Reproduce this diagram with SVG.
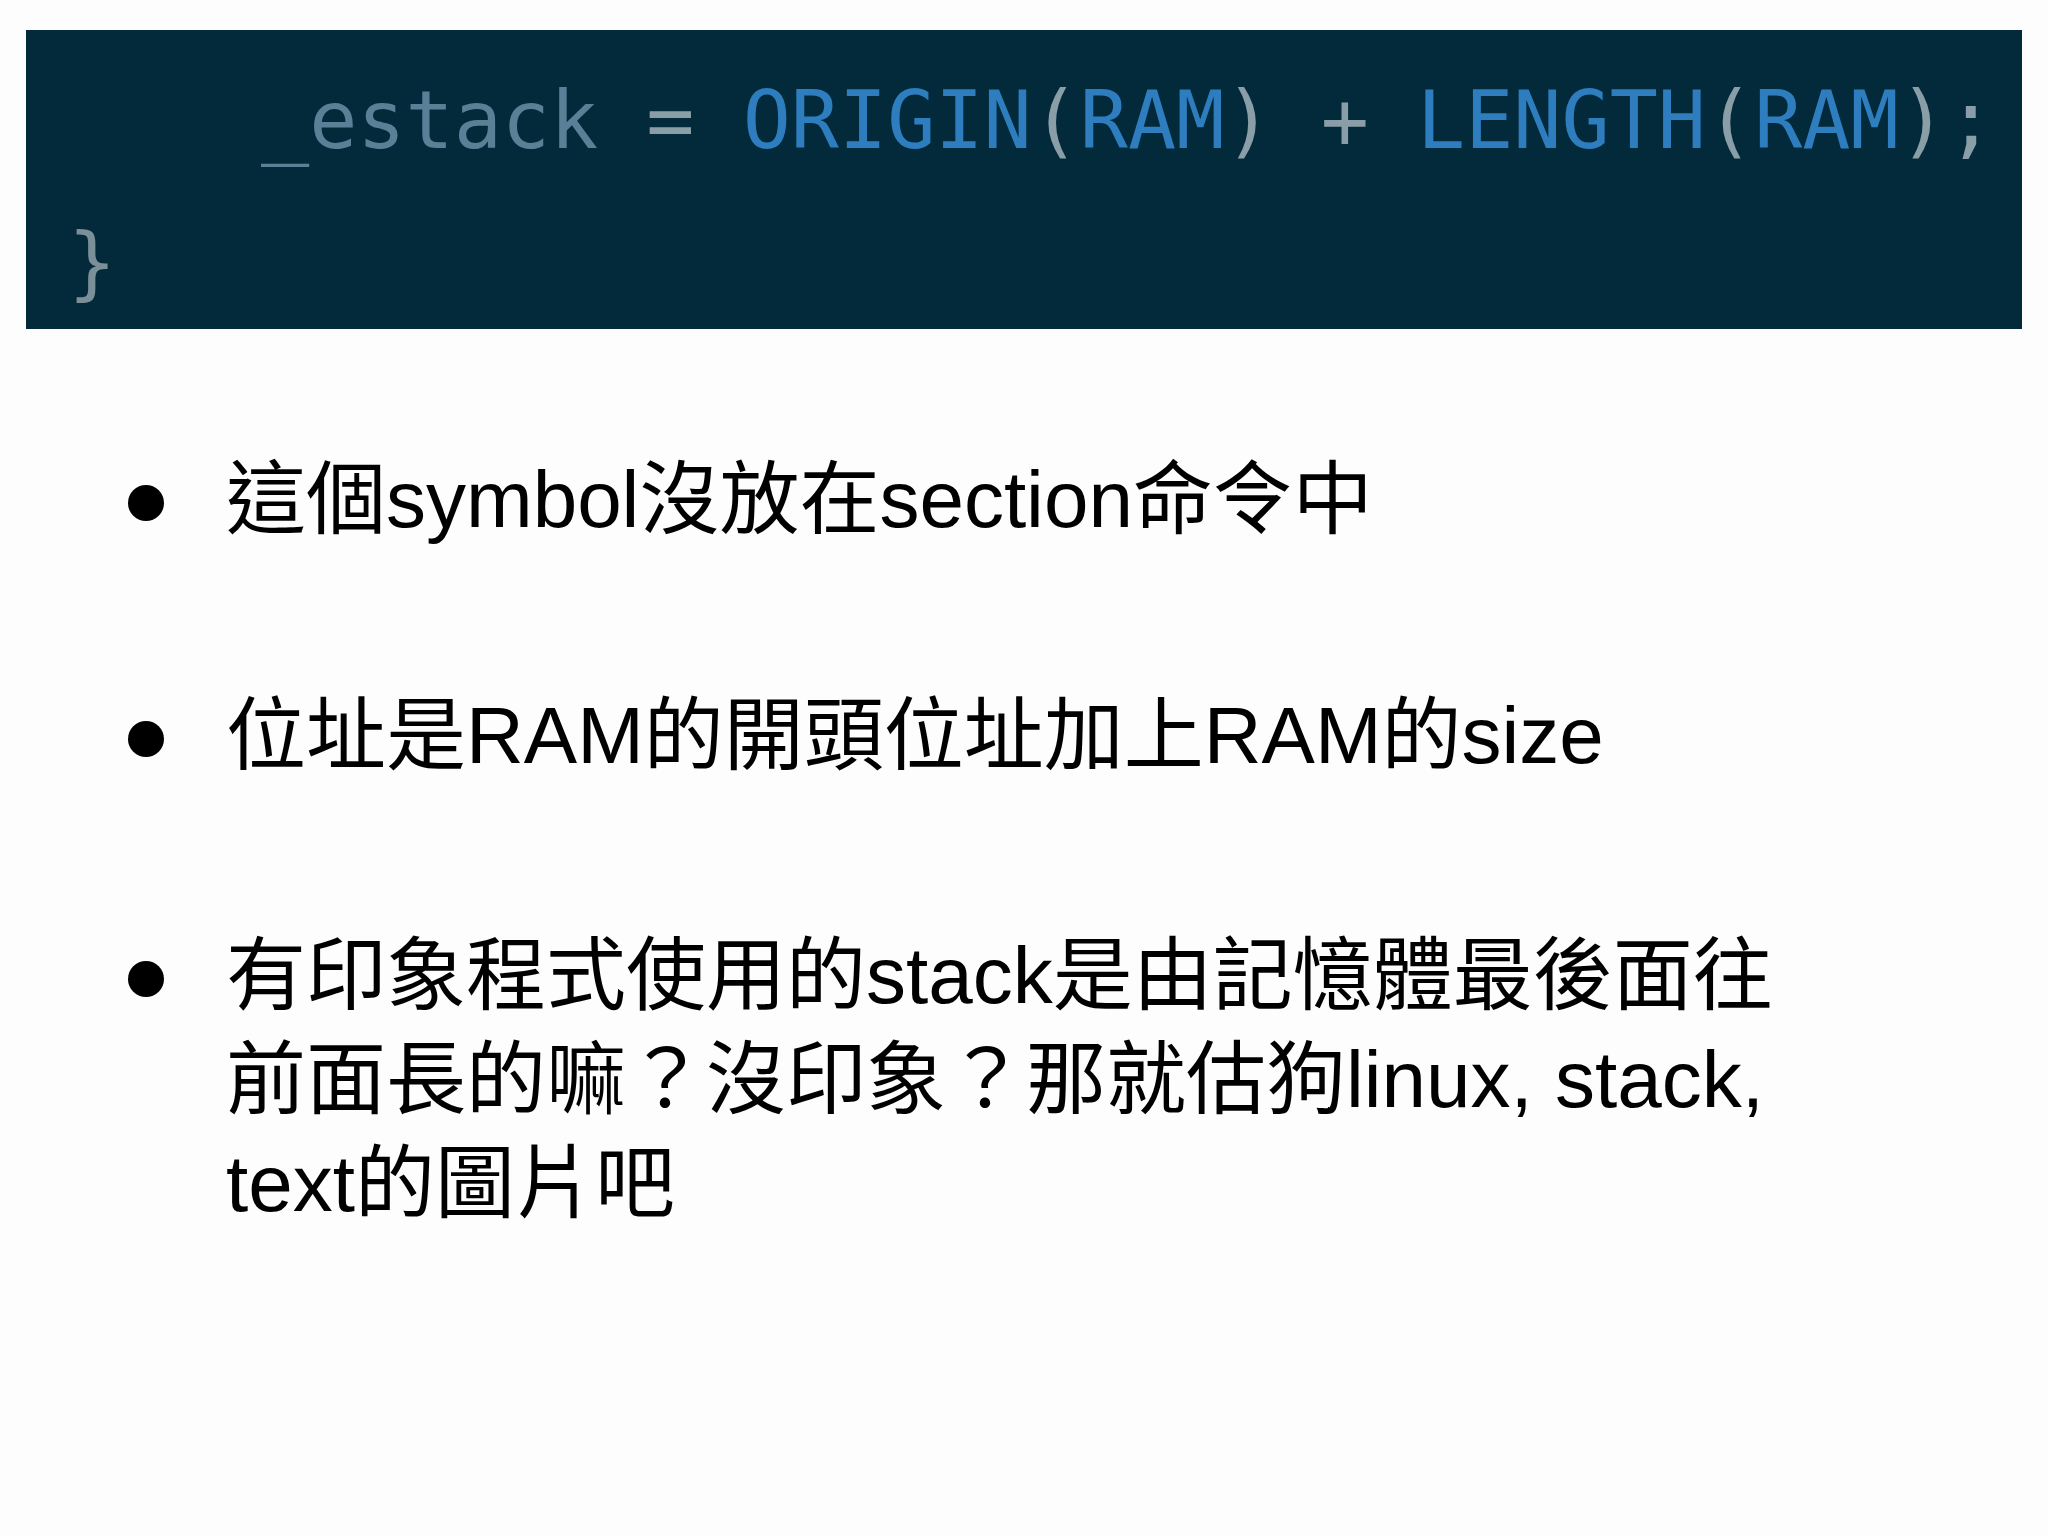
<svg xmlns="http://www.w3.org/2000/svg" width="2048" height="1536" viewBox="0 0 2048 1536">
<style>
.code{font-family:"DejaVu Sans Mono",monospace;font-size:80px}
.t{font-family:"Liberation Sans","Noto Sans CJK TC",sans-serif;font-size:80px;fill:#000}
</style>
<rect width="2048" height="1536" fill="#fdfdfd"/>
<rect x="26" y="30" width="1996" height="299" fill="#022a3a"/>
<text class="code" x="261" y="148" xml:space="preserve"><tspan fill="#5a8098">_estack</tspan><tspan fill="#8a9ea8"> = </tspan><tspan fill="#2e7dbf">ORIGIN</tspan><tspan fill="#8a9ea8">(</tspan><tspan fill="#2e7dbf">RAM</tspan><tspan fill="#8a9ea8">) + </tspan><tspan fill="#2e7dbf">LENGTH</tspan><tspan fill="#8a9ea8">(</tspan><tspan fill="#2e7dbf">RAM</tspan><tspan fill="#8a9ea8">);</tspan></text>
<text class="code" x="68" y="290" fill="#7a8f98">}</text>
<g id="b1"><circle cx="146" cy="503" r="18" fill="#000"/><text class="t" x="226" y="527">這個symbol沒放在section命令中</text></g>
<g id="b2"><circle cx="146" cy="739" r="18" fill="#000"/><text class="t" x="226" y="763">位址是RAM的開頭位址加上RAM的size</text></g>
<g id="b3"><circle cx="146" cy="979" r="18" fill="#000"/>
<text class="t" x="226" y="1003">有印象程式使用的stack是由記憶體最後面往</text>
<text class="t" x="226" y="1107">前面長的嘛？沒印象？那就估狗linux, stack,</text>
<text class="t" x="226" y="1211">text的圖片吧</text></g>
</svg>
